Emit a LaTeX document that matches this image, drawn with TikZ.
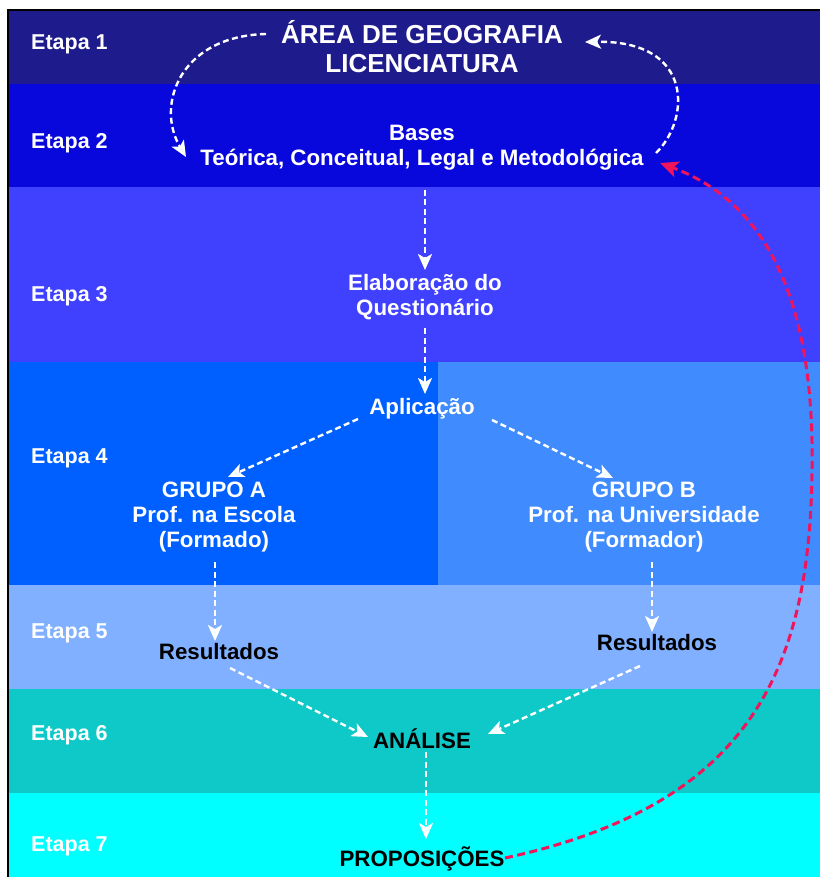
\documentclass[tikz,border=0pt]{standalone}
\usepackage{fontspec}
\setmainfont{Liberation Sans}
\usetikzlibrary{arrows.meta,calc}
\definecolor{bandA}{RGB}{30,27,140}
\definecolor{bandB}{RGB}{8,8,220}
\definecolor{bandC}{RGB}{64,64,255}
\definecolor{bandDl}{RGB}{0,96,255}
\definecolor{bandDr}{RGB}{64,140,255}
\definecolor{bandE}{RGB}{128,176,255}
\definecolor{bandF}{RGB}{15,200,200}
\definecolor{bandG}{RGB}{0,255,255}
\definecolor{redline}{RGB}{240,20,90}
\definecolor{tipfill}{RGB}{225,255,255}
\tikzset{
  flow/.style={draw=white, line width=2.4pt, dash pattern=on 6pt off 3.5pt,
    -{Stealth[length=16pt,width=14pt,inset=4pt,fill=tipfill]}},
  back/.style={draw=redline, line width=3pt, dash pattern=on 8pt off 4.5pt,
    -{Stealth[length=18pt,width=16pt,inset=4pt]}},
  etapa/.style={text=white, font=\fontsize{21.5}{24}\selectfont\bfseries, anchor=west, inner sep=0pt},
  txt/.style={text=white, font=\fontsize{22.3}{25}\selectfont\bfseries, align=center, inner sep=0pt},
  dark/.style={txt, text=black},
  titletxt/.style={txt, font=\fontsize{26}{29}\selectfont\bfseries}
}
\begin{document}
\begin{tikzpicture}[x=1pt,y=-1pt]
\useasboundingbox (0,0) rectangle (820,877);
\fill[white] (0,0) rectangle (820,877);
% bands
\fill[bandA] (8,10) rectangle (820,84);
\fill[bandB] (8,84) rectangle (820,187);
\fill[bandC] (8,187) rectangle (820,362);
\fill[bandDl] (8,362) rectangle (438,585);
\fill[bandDr] (438,362) rectangle (820,585);
\fill[bandE] (8,585) rectangle (820,689);
\fill[bandF] (8,689) rectangle (820,793);
\fill[bandG] (8,793) rectangle (820,877);
\draw[black, line width=1.6pt] (8,877) -- (8,10) -- (820,10);
% stage labels
\node[etapa] (e1) at (31,44) {Etapa 1};
\node[etapa] (e2) at (31,143) {Etapa 2};
\node[etapa] (e3) at (31,296) {Etapa 3};
\node[etapa] (e4) at (31,458) {Etapa 4};
\node[etapa] (e5) at (31,633) {Etapa 5};
\node[etapa] (e6) at (31,735) {Etapa 6};
\node[etapa] (e7) at (31,846) {Etapa 7};
% content nodes
\node[titletxt] (title) at (422,47) {ÁREA DE GEOGRAFIA\\LICENCIATURA};
\node[txt] (bases) at (422,148) {Bases\\Teórica, Conceitual, Legal e Metodológica};
\node[txt] (elab) at (425,297) {Elaboração do\\Questionário};
\node[txt] (apl) at (422,409) {Aplicação};
\node[txt] (grpA) at (214,517) {GRUPO A\\Prof. na Escola\\(Formado)};
\node[txt] (grpB) at (644,517) {GRUPO B\\Prof. na Universidade\\(Formador)};
\node[dark] (resL) at (219,652) {Resultados};
\node[dark] (resR) at (657,643) {Resultados};
\node[dark] (ana) at (422,739) {ANÁLISE};
\node[dark] (prop) at (422,859) {PROPOSIÇÕES};
% connectors
\draw[flow] ([shift={(-156,-13)}]title.center) .. controls (180,36) and (155,105) .. ([shift={(-236,9)}]bases.center);
\draw[flow] ([shift={(234,5)}]bases.center) .. controls (690,120) and (695,40) .. ([shift={(163,-5)}]title.center);
\draw[flow] ([shift={(3,42)}]bases.center) -- ([shift={(0,-27)}]elab.center);
\draw[flow] ([shift={(0,31)}]elab.center) -- ([shift={(3,-15)}]apl.center);
\draw[flow] ([shift={(-64,10)}]apl.center) -- ([shift={(14,-40)}]grpA.center);
\draw[flow] ([shift={(70,11)}]apl.center) -- ([shift={(-31,-39)}]grpB.center);
\draw[flow] ([shift={(1,45)}]grpA.center) -- ([shift={(-4,-11)}]resL.center);
\draw[flow] ([shift={(8,45)}]grpB.center) -- ([shift={(-5,-11)}]resR.center);
\draw[flow] ([shift={(11,16)}]resL.center) -- ([shift={(-54,-2)}]ana.center);
\draw[flow] ([shift={(-17,23)}]resR.center) -- ([shift={(66,-5)}]ana.center);
\draw[flow] ([shift={(4,13)}]ana.center) -- ([shift={(4,-20)}]prop.center);
\draw[back] ([shift={(83,-1)}]prop.center) .. controls (750,805) and (810,670) .. (812,470)
  .. controls (815,290) and (760,200) .. ([shift={(238,15)}]bases.center);
\end{tikzpicture}
\end{document}
